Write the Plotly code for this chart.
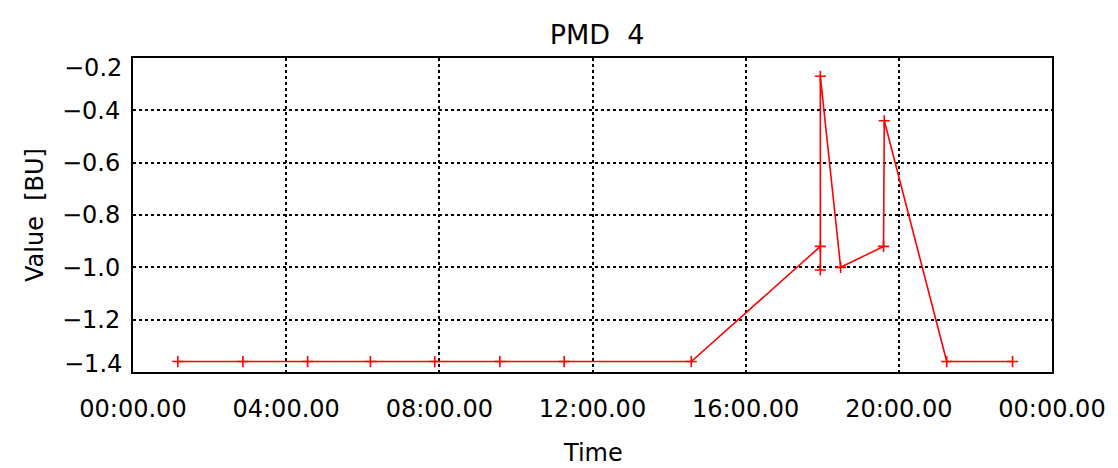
import plotly.graph_objects as go

# Data: time in hours since 00:00, value in BU
hours = [1.17, 2.87, 4.56, 6.20, 7.88, 9.58, 11.26, 14.58,
         17.95, 17.95, 17.95, 18.48, 19.60, 19.62, 21.25, 22.97]
values = [-1.36, -1.36, -1.36, -1.36, -1.36, -1.36, -1.36, -1.36,
          -0.92, -1.01, -0.27, -1.00, -0.92, -0.44, -1.36, -1.36]

x_tickvals = [0, 4, 8, 12, 16, 20, 24]
x_ticktext = ["00:00.00", "04:00.00", "08:00.00", "12:00.00", "16:00.00", "20:00.00", "00:00.00"]
y_tickvals = [-0.4, -0.6, -0.8, -1.0, -1.2]
y_ticktext = ["\u22120.4", "\u22120.6", "\u22120.8", "\u22121.0", "\u22121.2"]
# end labels drawn slightly inside the axis range, as in the reference
y_end_vals = [-0.2, -1.4]
y_end_text = ["\u22120.2", "\u22121.4"]

FONT = "DejaVu Sans"
FS = 24

fig = go.Figure()
fig.add_trace(go.Scatter(
    x=hours, y=values, mode="lines+markers",
    line=dict(color="#ff0000", width=1.6),
    marker=dict(symbol="cross-thin", size=8, line=dict(color="#ff0000", width=1.6), color="#ff0000"),
    showlegend=False,
))

annotations = [
    dict(text="Time", xref="paper", yref="paper", x=0.5, y=0, yshift=-81,
         xanchor="center", yanchor="middle", showarrow=False,
         font=dict(family=FONT, size=24)),
    dict(text="Value\u00a0\u00a0[BU]", xref="paper", yref="paper", x=0, xshift=-98, y=0.5,
         xanchor="center", yanchor="middle", textangle=-90, showarrow=False,
         font=dict(family=FONT, size=FS)),
]
for v, t, shift in zip(y_end_vals, y_end_text, [-10, 8]):
    annotations.append(dict(text=t, xref="paper", yref="y", x=0, xshift=-9, y=v, yshift=shift,
                            xanchor="right", yanchor="middle", showarrow=False,
                            font=dict(family=FONT, size=FS)))

fig.update_layout(
    width=1118, height=468,
    margin=dict(l=133, r=58, t=58, b=96),
    paper_bgcolor="white", plot_bgcolor="white",
    font=dict(family=FONT, size=FS, color="black"),
    title=dict(text="PMD\u00a0\u00a04", x=0.534, xanchor="center", y=1 - 35 / 468, yanchor="middle",
               font=dict(family=FONT, size=27, color="black")),
    xaxis=dict(
        range=[0, 24], tickvals=x_tickvals, ticktext=x_ticktext,
        showline=True, linecolor="black", linewidth=2, mirror=True,
        showgrid=True, gridcolor="black", gridwidth=1.5, griddash="3px,3px",
        ticks="outside", ticklen=14, tickcolor="rgba(0,0,0,0)",
        zeroline=False, tickfont=dict(family=FONT, size=FS),
    ),
    yaxis=dict(
        range=[-1.4, -0.2], tickvals=y_tickvals, ticktext=y_ticktext,
        showline=True, linecolor="black", linewidth=2, mirror=True,
        showgrid=True, gridcolor="black", gridwidth=1.5, griddash="3px,3px",
        ticks="outside", ticklen=6, tickcolor="rgba(0,0,0,0)",
        zeroline=False, tickfont=dict(family=FONT, size=FS),
    ),
    annotations=annotations,
)

fig.write_html("out.html", config={"displayModeBar": False},
               post_script="document.body.style.margin='0';document.body.style.overflow='hidden';")
